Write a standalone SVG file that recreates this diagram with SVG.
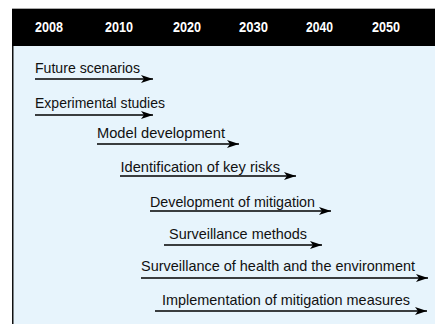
<svg xmlns="http://www.w3.org/2000/svg" width="435" height="324" viewBox="0 0 435 324">
<defs>
<marker id="ah" markerUnits="userSpaceOnUse" markerWidth="14" markerHeight="9" refX="12" refY="4" orient="auto">
<path d="M0,0 L12,4 L0,8 L3,4 Z" fill="#000"/>
</marker>
<style>
.yr{font-family:"Liberation Sans",Arial,sans-serif;font-weight:bold;font-size:15px;fill:#fff;}
.lb{font-family:"Liberation Sans",Arial,sans-serif;font-size:14.5px;fill:#111;}
.ar{stroke:#000;stroke-width:1.6;fill:none;marker-end:url(#ah);}
</style>
</defs>
<rect x="0" y="0" width="435" height="324" fill="#fff"/>
<rect x="12" y="46" width="423" height="278" fill="#e7f4fc"/>
<line x1="12" y1="8.5" x2="435" y2="8.5" stroke="#aaa" stroke-width="1"/>
<rect x="12" y="9" width="423" height="37" fill="#000"/>
<line x1="12.75" y1="46" x2="12.75" y2="324" stroke="#111" stroke-width="1.5"/>
<g id="years">
<text class="yr" x="35" y="32" textLength="28" lengthAdjust="spacingAndGlyphs">2008</text>
<text class="yr" x="105" y="32" textLength="28" lengthAdjust="spacingAndGlyphs">2010</text>
<text class="yr" x="173" y="32" textLength="28" lengthAdjust="spacingAndGlyphs">2020</text>
<text class="yr" x="239" y="32" textLength="29" lengthAdjust="spacingAndGlyphs">2030</text>
<text class="yr" x="306" y="32" textLength="27" lengthAdjust="spacingAndGlyphs">2040</text>
<text class="yr" x="372" y="32" textLength="28" lengthAdjust="spacingAndGlyphs">2050</text>
</g>
<g id="connectors">
<line class="ar" x1="35" y1="79" x2="153" y2="79"/>
<line class="ar" x1="35" y1="115" x2="153" y2="115"/>
<line class="ar" x1="97" y1="144" x2="239" y2="144"/>
<line class="ar" x1="120" y1="176" x2="296" y2="176"/>
<line class="ar" x1="150" y1="211" x2="331" y2="211"/>
<line class="ar" x1="164" y1="245" x2="322" y2="245"/>
<line class="ar" x1="141" y1="278" x2="428" y2="278"/>
<line class="ar" x1="155" y1="311" x2="427" y2="311"/>
</g>
<g id="n1"><text class="lb" x="35" y="73" textLength="105" lengthAdjust="spacingAndGlyphs">Future scenarios</text></g>
<g id="n2"><text class="lb" x="35" y="108" textLength="130" lengthAdjust="spacingAndGlyphs">Experimental studies</text></g>
<g id="n3"><text class="lb" x="97" y="138" textLength="128" lengthAdjust="spacingAndGlyphs">Model development</text></g>
<g id="n4"><text class="lb" x="120.5" y="172" textLength="159.5" lengthAdjust="spacingAndGlyphs">Identification of key risks</text></g>
<g id="n5"><text class="lb" x="150" y="207" textLength="165" lengthAdjust="spacingAndGlyphs">Development of mitigation</text></g>
<g id="n6"><text class="lb" x="169" y="239" textLength="138" lengthAdjust="spacingAndGlyphs">Surveillance methods</text></g>
<g id="n7"><text class="lb" x="141" y="271" textLength="274" lengthAdjust="spacingAndGlyphs">Surveillance of health and the environment</text></g>
<g id="n8"><text class="lb" x="162" y="305" textLength="248" lengthAdjust="spacingAndGlyphs">Implementation of mitigation measures</text></g>
</svg>
